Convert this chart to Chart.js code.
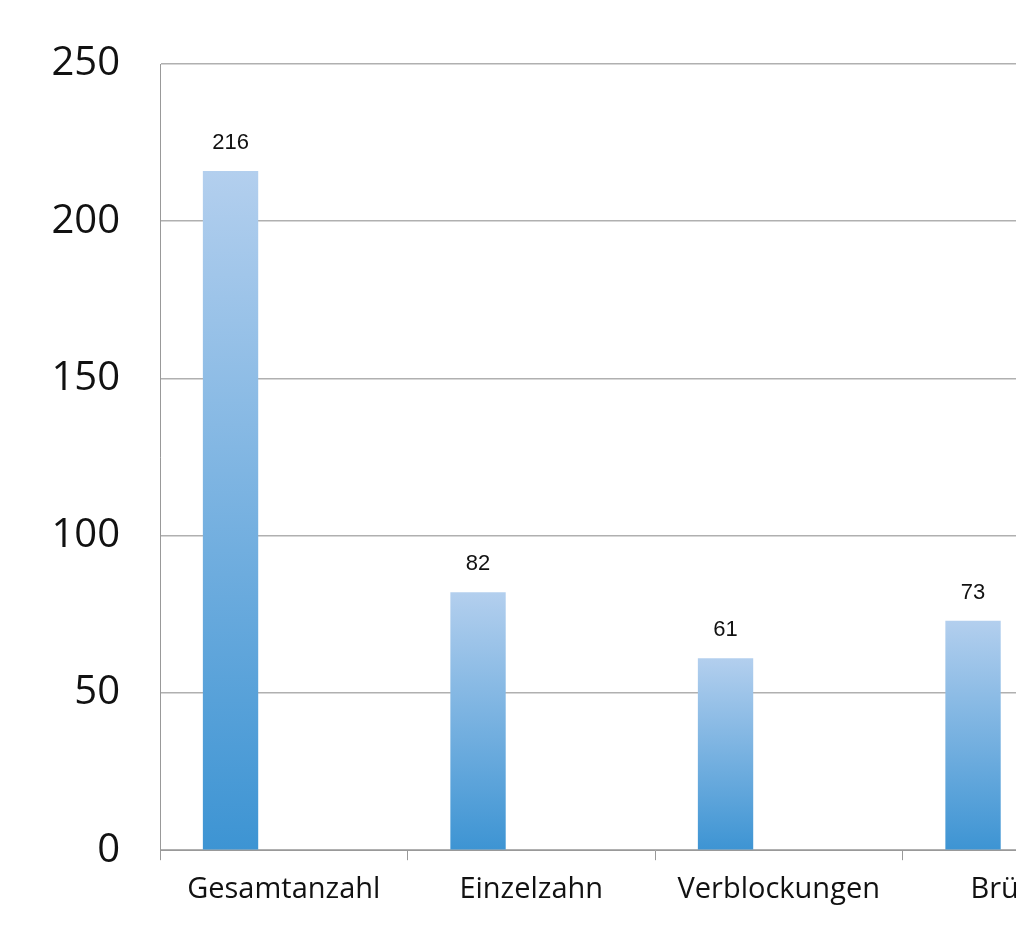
<!DOCTYPE html>
<html>
<head>
<meta charset="utf-8">
<script src="https://cdn.jsdelivr.net/npm/chart.js@4"></script>
<style>
  html, body { margin: 0; padding: 0; background: #fff; overflow: hidden; }
  #wrap { width: 1150px; height: 947px; }
</style>
</head>
<body>
<div id="wrap"><canvas id="chart"></canvas></div>
<script>
const categories = ['Gesamtanzahl', 'Einzelzahn', 'Verblockungen', 'Brücken'];
const counts = [216, 82, 61, 73];
const emptySeries = [null, null, null, null];

// Value labels above each bar
const valueLabels = {
    id: 'valueLabels',
    afterDatasetsDraw(chart) {
        const ctx = chart.ctx;
        const meta = chart.getDatasetMeta(0);
        ctx.save();
        ctx.font = '22px "Liberation Sans", Arial, sans-serif';
        ctx.fillStyle = '#111';
        ctx.textAlign = 'center';
        ctx.textBaseline = 'bottom';
        meta.data.forEach((bar, i) => {
            ctx.fillText(String(counts[i]), bar.x, bar.y - 17);
        });
        ctx.restore();
    }
};

new Chart(document.getElementById('chart'), {
    type: 'bar',
    data: {
        labels: categories,
        datasets: [{
            data: counts,
            backgroundColor(c) {
                const chart = c.chart;
                if (!chart.chartArea) return '#6aa8de';
                const y = chart.scales.y;
                const top = y.getPixelForValue(counts[c.dataIndex]);
                const g = chart.ctx.createLinearGradient(0, top, 0, y.getPixelForValue(0));
                g.addColorStop(0, '#b3cfee');
                g.addColorStop(1, '#3d94d3');
                return g;
            },
            borderWidth: 0,
            barPercentage: 0.52,
            categoryPercentage: 0.86
        }, {
            // placeholder so the real bars sit left of the category centre
            data: emptySeries,
            backgroundColor: 'rgba(0,0,0,0)',
            barPercentage: 0.52,
            categoryPercentage: 0.86
        }]
    },
    options: {
        responsive: true,
        maintainAspectRatio: false,
        animation: false,
        layout: { padding: { top: 30, right: 0, bottom: 28, left: 0 } },
        plugins: { legend: { display: false }, tooltip: { enabled: false } },
        scales: {
            x: {
                grid: { display: true, drawOnChartArea: false, offset: true, tickLength: 10, color: '#999' },
                border: { color: '#999' },
                ticks: { color: '#111', padding: 12, font: { size: 29, family: '"Open Sans", sans-serif' } }
            },
            y: {
                min: 0, max: 250,
                afterFit(s) { s.width = 160; },
                grid: { color: '#b0b0b0', lineWidth: 1.5, drawTicks: false },
                border: { color: '#999' },
                ticks: { stepSize: 50, color: '#111', padding: 40, font: { size: 40, family: '"Open Sans", sans-serif' } }
            }
        }
    },
    plugins: [valueLabels]
});
</script>
</body>
</html>
